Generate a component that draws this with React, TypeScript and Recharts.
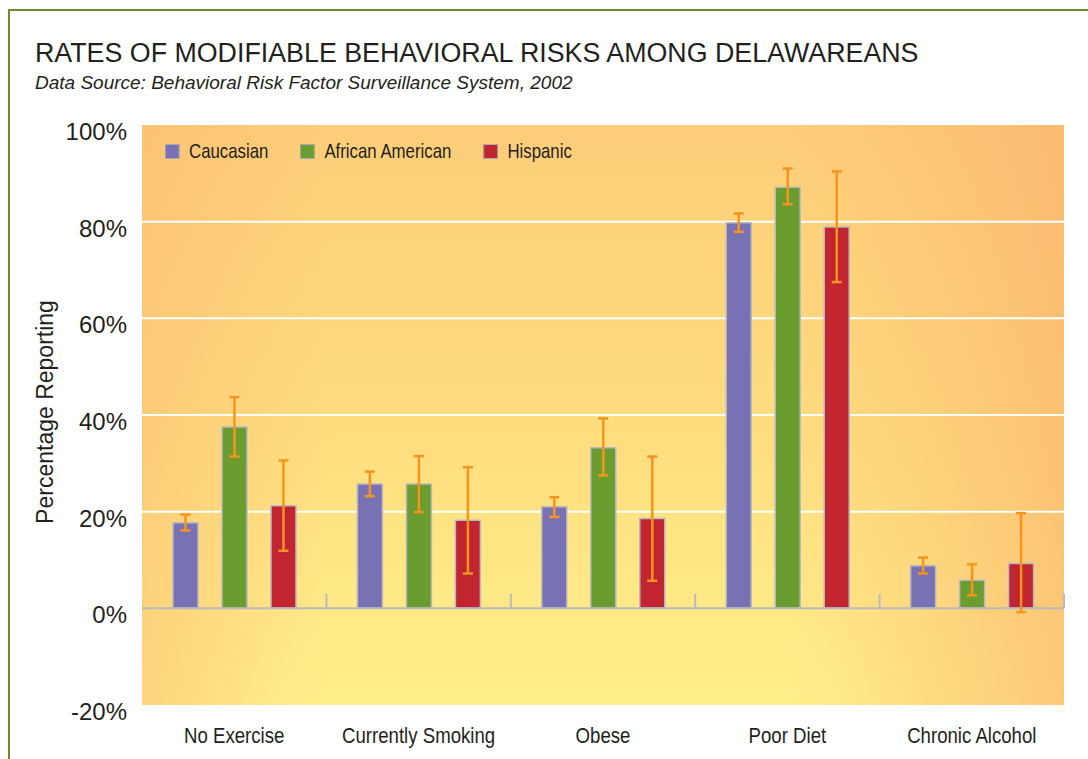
import {
  Bar,
  BarChart,
  CartesianGrid,
  ErrorBar,
  Label,
  Legend,
  ReferenceLine,
  XAxis,
  YAxis,
} from 'recharts'

const CATEGORIES = ['No Exercise', 'Currently Smoking', 'Obese', 'Poor Diet', 'Chronic Alcohol']

const CAUCASIAN = [17.7, 25.7, 21.0, 79.8, 8.8]
const CAUCASIAN_LOW = [16.1, 23.2, 18.9, 77.9, 7.2]
const CAUCASIAN_HIGH = [19.4, 28.3, 23.0, 81.7, 10.5]

const AFRICAN_AMERICAN = [37.5, 25.7, 33.2, 87.1, 5.8]
const AFRICAN_AMERICAN_LOW = [31.4, 19.9, 27.5, 83.6, 2.7]
const AFRICAN_AMERICAN_HIGH = [43.7, 31.5, 39.3, 91.0, 9.1]

const HISPANIC = [21.2, 18.2, 18.6, 78.9, 9.3]
const HISPANIC_LOW = [11.9, 7.2, 5.7, 67.5, -0.8]
const HISPANIC_HIGH = [30.6, 29.2, 31.4, 90.4, 19.7]

const Y_TICKS = [-20, 0, 20, 40, 60, 80, 100]
const GRID_VALUES = [20, 40, 60, 80]

const SERIES = [
  { key: 'cau', name: 'Caucasian', color: '#7872b4' },
  { key: 'afr', name: 'African American', color: '#6a9c30' },
  { key: 'his', name: 'Hispanic', color: '#c1252f' },
]

const TEXT = '#231f20'
const SANS = "'Liberation Sans', Arial, Helvetica, sans-serif"
// no condensed face installed, so squeeze the regular one
const SQUEEZE = 0.8

function errPair(v: number, lo: number, hi: number): [number, number] {
  return [+(v - lo).toFixed(2), +(hi - v).toFixed(2)]
}

const data = CATEGORIES.map((cat, i) => ({
  cat,
  pos: i + 0.5,
  cau: CAUCASIAN[i],
  cauErr: errPair(CAUCASIAN[i], CAUCASIAN_LOW[i], CAUCASIAN_HIGH[i]),
  afr: AFRICAN_AMERICAN[i],
  afrErr: errPair(AFRICAN_AMERICAN[i], AFRICAN_AMERICAN_LOW[i], AFRICAN_AMERICAN_HIGH[i]),
  his: HISPANIC[i],
  hisErr: errPair(HISPANIC[i], HISPANIC_LOW[i], HISPANIC_HIGH[i]),
}))

// group separators sit between categories on the zero line
const SEPARATORS = CATEGORIES.map((_, i) => i + 1)

function CategoryTick(props: any) {
  const { x, y, payload } = props
  return (
    <text
      transform={`translate(${x},${y + 38}) scale(0.81,1)`}
      textAnchor="middle"
      fontFamily={SANS}
      fontSize={23}
      fill={TEXT}
    >
      {payload.value}
    </text>
  )
}

function PercentTick(props: any) {
  const { x, y, payload } = props
  return (
    <text x={x} y={y + 15} textAnchor="end" fontFamily={SANS} fontSize={24} fill={TEXT}>
      {`${payload.value}%`}
    </text>
  )
}

function LegendContent() {
  return (
    <div
      style={{
        display: 'flex',
        alignItems: 'center',
        fontFamily: SANS,
        fontSize: 21,
        color: TEXT,
        transform: `scaleX(${SQUEEZE})`,
        transformOrigin: 'left center',
        whiteSpace: 'nowrap',
      }}
    >
      {SERIES.map((s) => (
        <div key={s.key} style={{ display: 'flex', alignItems: 'center', marginRight: 40 }}>
          <span
            style={{
              display: 'inline-block',
              width: 16,
              height: 13,
              background: s.color,
              border: '1.5px solid #a9a9b8',
              marginRight: 12,
            }}
          />
          <span>{s.name}</span>
        </div>
      ))}
    </div>
  )
}

export default function App() {
  return (
    <div style={{ position: 'absolute', left: 0, top: 0, width: 1088, height: 759, overflow: 'hidden', background: '#fff' }}>
      <div
        style={{
          position: 'absolute',
          left: 8,
          top: 9,
          width: 1200,
          height: 900,
          borderLeft: '2px solid #6b8e2e',
          borderTop: '2px solid #6b8e2e',
        }}
      />
      <div
        style={{
          position: 'absolute',
          left: 35,
          top: 40,
          fontFamily: SANS,
          fontSize: 26.8,
          lineHeight: 1,
          color: TEXT,
          whiteSpace: 'nowrap',
        }}
      >
        RATES OF MODIFIABLE BEHAVIORAL RISKS AMONG DELAWAREANS
      </div>
      <div
        style={{
          position: 'absolute',
          left: 35,
          top: 73,
          fontFamily: SANS,
          fontStyle: 'italic',
          fontSize: 19,
          lineHeight: 1,
          color: TEXT,
          whiteSpace: 'nowrap',
        }}
      >
        Data Source: Behavioral Risk Factor Surveillance System, 2002
      </div>
      <div style={{ position: 'absolute', left: 0, top: 0 }}>
        <BarChart
          width={1088}
          height={759}
          data={data}
          margin={{ top: 125, right: 24, bottom: 24, left: 62 }}
          barSize={25}
          barGap={24}
        >
          <defs>
            <linearGradient id="bgV" x1="0" y1="0" x2="0" y2="1">
              <stop offset="0" stopColor="#fdcd79" />
              <stop offset="0.55" stopColor="#fede7f" />
              <stop offset="1" stopColor="#fff08b" />
            </linearGradient>
            <linearGradient id="bgH" x1="0" y1="0" x2="1" y2="0">
              <stop offset="0" stopColor="#fbb670" stopOpacity={0.45} />
              <stop offset="0.2" stopColor="#fbb670" stopOpacity={0} />
              <stop offset="0.7" stopColor="#fbb670" stopOpacity={0} />
              <stop offset="1" stopColor="#fab06c" stopOpacity={0.62} />
            </linearGradient>
            <pattern
              id="plotBg"
              patternUnits="objectBoundingBox"
              patternContentUnits="objectBoundingBox"
              width="1"
              height="1"
            >
              <rect x="0" y="0" width="1" height="1" fill="url(#bgV)" />
              <rect x="0" y="0" width="1" height="1" fill="url(#bgH)" />
            </pattern>
          </defs>
          <CartesianGrid
            vertical={false}
            horizontalValues={GRID_VALUES}
            stroke="#ffffff"
            strokeWidth={2}
            fill="url(#plotBg)"
            fillOpacity={1}
          />
          <XAxis
            dataKey="cat"
            axisLine={false}
            tickLine={false}
            tickSize={0}
            tickMargin={0}
            height={30}
            interval={0}
            tick={<CategoryTick />}
          />
          <XAxis
            xAxisId="sep"
            dataKey="pos"
            type="number"
            domain={[0, CATEGORIES.length]}
            allowDataOverflow
            hide
          />
          <YAxis
            domain={[-20, 100]}
            ticks={Y_TICKS}
            width={80}
            axisLine={false}
            tickLine={false}
            tickSize={0}
            tickMargin={15}
            interval={0}
            tick={<PercentTick />}
          >
            <Label
              value="Percentage Reporting"
              angle={-90}
              position="center"
              dx={-57}
              dy={-3}
              fontFamily={SANS}
              fontSize={23}
              fill={TEXT}
            />
          </YAxis>
          <ReferenceLine y={0} stroke="#b9b9be" strokeWidth={2} />
          {SEPARATORS.map((s) => (
            <ReferenceLine
              key={s}
              xAxisId="sep"
              segment={[
                { x: s, y: 0 },
                { x: s, y: 3 },
              ]}
              stroke="#b9b9be"
              strokeWidth={2}
            />
          ))}
          <Legend
            layout="horizontal"
            verticalAlign="middle"
            align="center"
            content={<LegendContent />}
            wrapperStyle={{ left: 165, top: 139, width: 'auto', height: 'auto' }}
          />
          {SERIES.map((s) => (
            <Bar
              key={s.key}
              dataKey={s.key}
              name={s.name}
              fill={s.color}
              stroke="#b9b9c0"
              strokeWidth={1.5}
              isAnimationActive={false}
            >
              <ErrorBar
                dataKey={`${s.key}Err`}
                direction="y"
                width={5}
                stroke="#f7941d"
                strokeWidth={2.5}
                isAnimationActive={false}
              />
            </Bar>
          ))}
        </BarChart>
      </div>
    </div>
  )
}
